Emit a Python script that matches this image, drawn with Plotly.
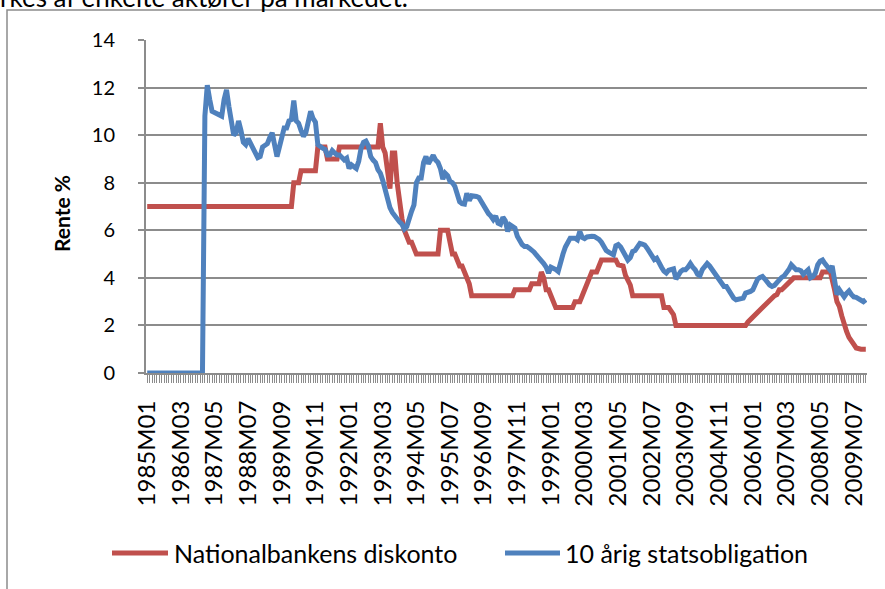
import plotly.graph_objects as go

years = list(range(1985, 2010))
months = [f"{y}M{m:02d}" for y in years for m in range(1, 13)]

# Nationalbankens diskonto (%), one row per year, Jan..Dec
diskonto = [
    7.0, 7.0, 7.0, 7.0, 7.0, 7.0, 7.0, 7.0, 7.0, 7.0, 7.0, 7.0,          # 1985
    7.0, 7.0, 7.0, 7.0, 7.0, 7.0, 7.0, 7.0, 7.0, 7.0, 7.0, 7.0,          # 1986
    7.0, 7.0, 7.0, 7.0, 7.0, 7.0, 7.0, 7.0, 7.0, 7.0, 7.0, 7.0,          # 1987
    7.0, 7.0, 7.0, 7.0, 7.0, 7.0, 7.0, 7.0, 7.0, 7.0, 7.0, 7.0,          # 1988
    7.0, 7.0, 7.0, 7.0, 7.0, 7.0, 7.0, 7.0, 7.0, 7.0, 7.0, 7.0,          # 1989
    7.0, 8.0, 8.0, 8.0, 8.5, 8.5, 8.5, 8.5, 8.5, 8.5, 8.5, 9.5,          # 1990
    9.5, 9.5, 9.5, 9.0, 9.0, 9.0, 9.0, 9.0, 9.5, 9.5, 9.5, 9.5,          # 1991
    9.5, 9.5, 9.5, 9.5, 9.5, 9.5, 9.5, 9.5, 9.5, 9.5, 9.5, 9.5,          # 1992
    9.5, 10.5, 9.5, 9.25, 8.5, 7.75, 9.25, 9.25, 8.0, 7.0, 6.5, 6.0,     # 1993
    5.75, 5.5, 5.5, 5.25, 5.0, 5.0, 5.0, 5.0, 5.0, 5.0, 5.0, 5.0,        # 1994
    5.0, 5.0, 6.0, 6.0, 6.0, 6.0, 5.5, 5.0, 5.0, 4.75, 4.5, 4.5,         # 1995
    4.25, 4.0, 3.75, 3.25, 3.25, 3.25, 3.25, 3.25, 3.25, 3.25, 3.25, 3.25,  # 1996
    3.25, 3.25, 3.25, 3.25, 3.25, 3.25, 3.25, 3.25, 3.25, 3.5, 3.5, 3.5,    # 1997
    3.5, 3.5, 3.5, 3.5, 3.75, 3.75, 3.75, 3.75, 4.25, 4.0, 3.5, 3.5,     # 1998
    3.25, 3.0, 2.75, 2.75, 2.75, 2.75, 2.75, 2.75, 2.75, 2.75, 3.0, 3.0,  # 1999
    3.0, 3.25, 3.5, 3.75, 4.0, 4.25, 4.25, 4.25, 4.5, 4.75, 4.75, 4.75,   # 2000
    4.75, 4.75, 4.75, 4.75, 4.55, 4.5, 4.5, 4.1, 3.85, 3.7, 3.25, 3.25,  # 2001
    3.25, 3.25, 3.25, 3.25, 3.25, 3.25, 3.25, 3.25, 3.25, 3.25, 3.25, 2.75,  # 2002
    2.75, 2.75, 2.6, 2.45, 2.0, 2.0, 2.0, 2.0, 2.0, 2.0, 2.0, 2.0,       # 2003
    2.0, 2.0, 2.0, 2.0, 2.0, 2.0, 2.0, 2.0, 2.0, 2.0, 2.0, 2.0,          # 2004
    2.0, 2.0, 2.0, 2.0, 2.0, 2.0, 2.0, 2.0, 2.0, 2.0, 2.15, 2.25,        # 2005
    2.4, 2.45, 2.6, 2.7, 2.8, 2.9, 2.95, 3.1, 3.15, 3.25, 3.3, 3.5,      # 2006
    3.5, 3.6, 3.75, 3.8, 3.9, 4.0, 4.0, 4.0, 4.0, 4.0, 4.0, 4.0,         # 2007
    4.0, 4.0, 4.0, 4.0, 4.0, 4.25, 4.25, 4.25, 4.35, 4.0, 3.5, 3.0,      # 2008
    2.8, 2.4, 2.0, 1.75, 1.5, 1.3, 1.2, 1.05, 1.0, 1.0, 1.0, 1.0,        # 2009
]

# 10 årig statsobligation (%), one row per year, Jan..Dec
statsobligation = [
    0, 0, 0, 0, 0, 0, 0, 0, 0, 0, 0, 0,                                   # 1985
    0, 0, 0, 0, 0, 0, 0, 0, 0, 0, 0, 0,                                   # 1986
    10.8, 12.1, 11.5, 11.0, 10.95, 10.9, 10.9, 10.8, 11.5, 11.9, 11.2, 10.4,  # 1987
    10.0, 10.1, 10.6, 10.2, 9.7, 9.6, 9.85, 9.65, 9.4, 9.25, 9.05, 9.1,   # 1988
    9.5, 9.6, 9.64, 9.9, 10.1, 9.6, 9.1, 9.5, 10.0, 10.3, 10.3, 10.6,    # 1989
    10.65, 11.45, 10.6, 10.5, 10.2, 9.95, 10.1, 10.7, 11.0, 10.7, 10.55, 9.6,  # 1990
    9.5, 9.45, 9.4, 9.17, 9.17, 9.35, 9.25, 9.17, 9.17, 9.05, 8.96, 9.03,  # 1991
    8.6, 8.75, 8.7, 8.6, 8.9, 9.45, 9.7, 9.75, 9.55, 9.1, 8.95, 8.85,    # 1992
    8.55, 8.4, 8.1, 7.7, 7.25, 6.95, 6.75, 6.6, 6.5, 6.35, 6.25, 6.05,   # 1993
    6.15, 6.55, 6.8, 7.07, 8.0, 8.2, 8.2, 8.85, 9.1, 8.8, 8.95, 9.15,    # 1994
    8.95, 8.85, 8.6, 8.15, 8.4, 8.3, 8.05, 8.0, 7.85, 7.45, 7.2, 7.12,   # 1995
    7.1, 7.55, 7.25, 7.45, 7.45, 7.42, 7.38, 7.2, 7.0, 6.85, 6.7, 6.6,   # 1996
    6.45, 6.6, 6.3, 6.25, 6.55, 6.4, 5.95, 6.23, 6.18, 6.09, 5.75, 5.55,  # 1997
    5.4, 5.32, 5.32, 5.25, 5.18, 5.08, 4.95, 4.85, 4.7, 4.6, 4.45, 4.2,  # 1998
    4.45, 4.42, 4.35, 4.27, 4.7, 5.0, 5.3, 5.5, 5.67, 5.67, 5.67, 5.6,   # 1999
    5.95, 5.7, 5.65, 5.72, 5.75, 5.75, 5.74, 5.7, 5.62, 5.5, 5.3, 5.15,  # 2000
    5.08, 5.0, 4.97, 5.35, 5.4, 5.3, 5.1, 4.97, 4.75, 4.85, 5.11, 5.15,  # 2001
    5.3, 5.45, 5.42, 5.38, 5.25, 5.1, 4.9, 4.77, 4.83, 4.6, 4.45, 4.28,  # 2002
    4.2, 4.32, 4.36, 4.38, 3.95, 4.15, 4.27, 4.34, 4.34, 4.45, 4.6, 4.45,  # 2003
    4.34, 4.15, 4.1, 4.35, 4.5, 4.6, 4.5, 4.35, 4.2, 4.05, 3.9, 3.7,     # 2004
    3.64, 3.64, 3.45, 3.3, 3.15, 3.08, 3.1, 3.08, 3.15, 3.36, 3.38, 3.43,  # 2005
    3.5, 3.7, 3.95, 4.02, 4.06, 3.95, 3.8, 3.7, 3.64, 3.68, 3.8, 3.95,   # 2006
    4.02, 4.08, 4.18, 4.35, 4.55, 4.45, 4.34, 4.34, 4.3, 4.15, 4.25, 4.34,  # 2007
    4.0, 4.05, 4.2, 4.55, 4.7, 4.75, 4.6, 4.45, 4.34, 4.5, 3.7, 3.3,     # 2008
    3.5, 3.35, 3.2, 3.35, 3.45, 3.3, 3.2, 3.18, 3.12, 3.05, 3.0, 3.08,   # 2009
]

# category labels shown on the x axis (every 14th month)
tick_labels = [
    "1985M01", "1986M03", "1987M05", "1988M07", "1989M09", "1990M11",
    "1992M01", "1993M03", "1994M05", "1995M07", "1996M09", "1997M11",
    "1999M01", "2000M03", "2001M05", "2002M07", "2003M09", "2004M11",
    "2006M01", "2007M03", "2008M05", "2009M07",
]
y_ticks = [0, 2, 4, 6, 8, 10, 12, 14]

series_names = ["Nationalbankens diskonto", "10 årig statsobligation"]

idx = list(range(len(months)))
# a tick mark on every month, a label only on the listed months
x_ticktext = [m if m in tick_labels else "" for m in months]

RED = "#C0504D"
BLUE = "#4F81BD"
GRID = "#8C8C8C"
FONT = "Lato"

W, H = 885, 589
L, R, T, B = 146, 18, 40, 216
PW, PH = W - L - R, H - T - B


def px_x(px):
    return (px - L) / PW


def px_y(py):
    return 1 - (py - T) / PH


fig = go.Figure()
for name, values, color in [(series_names[0], diskonto, RED),
                            (series_names[1], statsobligation, BLUE)]:
    fig.add_trace(go.Scatter(
        x=idx, y=values, customdata=months, name=name,
        mode="lines", line=dict(color=color, width=5),
        hovertemplate="%{customdata}: %{y}<extra></extra>",
        showlegend=False,
    ))

# legend drawn as line keys with text labels below the plot
legend_y = px_y(553)
legend_items = [
    (series_names[0], RED, 112, 168, 172),
    (series_names[1], BLUE, 505, 560, 563),
]
shapes = [
    dict(type="rect", xref="paper", yref="paper",
         x0=px_x(7), x1=px_x(895), y0=px_y(600), y1=px_y(10),
         line=dict(color=GRID, width=1.5), fillcolor="rgba(0,0,0,0)",
         layer="below"),
]
annotations = [
    dict(text="<b>Rente %</b>", textangle=-90, showarrow=False,
         xref="paper", yref="paper", x=px_x(61), y=px_y(214),
         xanchor="center", yanchor="middle",
         font=dict(family=FONT, size=21, color="black")),
    dict(text="rkes af enkelte aktører på markedet.", showarrow=False,
         xref="paper", yref="paper", x=px_x(-2), y=px_y(-3),
         xanchor="left", yanchor="middle",
         font=dict(family=FONT, size=26, color="black")),
]
for name, color, x0, x1, tx in legend_items:
    shapes.append(dict(type="line", xref="paper", yref="paper",
                       x0=px_x(x0), x1=px_x(x1), y0=legend_y, y1=legend_y,
                       line=dict(color=color, width=5)))
    annotations.append(dict(text=name, showarrow=False,
                            xref="paper", yref="paper",
                            x=px_x(tx), y=legend_y,
                            xanchor="left", yanchor="middle",
                            font=dict(family=FONT, size=25, color="black")))

fig.update_layout(
    width=W, height=H,
    margin=dict(l=L, r=R, t=T, b=B, autoexpand=False),
    paper_bgcolor="white", plot_bgcolor="white",
    font=dict(family=FONT, color="black"),
    showlegend=False,
    xaxis=dict(
        range=[-0.5, len(months) - 0.5],
        tickmode="array", tickvals=idx, ticktext=x_ticktext,
        tickangle=-90, ticks="outside", ticklen=8, tickcolor=GRID,
        tickwidth=1, ticklabelstandoff=8,
        tickfont=dict(family=FONT, size=24, color="black"),
        showgrid=False, zeroline=False,
        showline=True, linecolor=GRID, linewidth=2,
        layer="below traces",
    ),
    yaxis=dict(
        range=[0, 14], tickmode="array", tickvals=y_ticks,
        ticks="outside", ticklen=6, tickcolor=GRID, tickwidth=1.5,
        ticklabelstandoff=19,
        tickfont=dict(family=FONT, size=20, color="black"),
        showgrid=True, gridcolor=GRID, gridwidth=1.5,
        zeroline=False, showline=True, linecolor=GRID, linewidth=2,
        layer="below traces",
    ),
    annotations=annotations,
    shapes=shapes,
)

fig.write_html("out.html")
